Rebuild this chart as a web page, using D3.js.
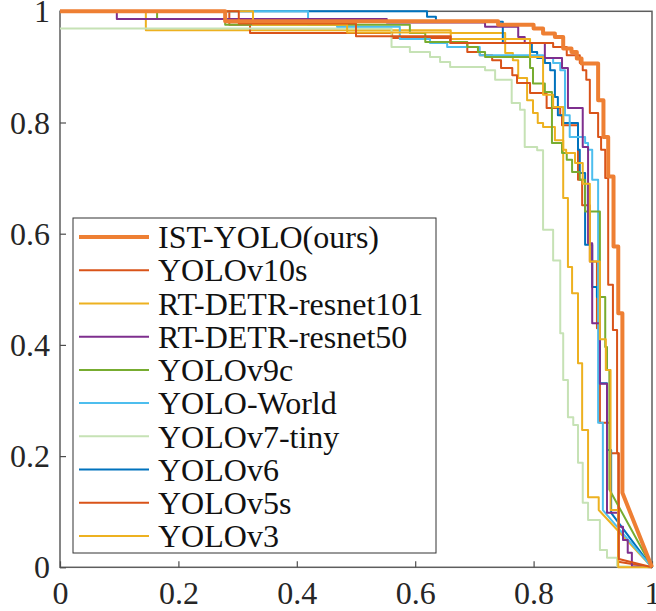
<!DOCTYPE html>
<html lang="en">
<head>
<meta charset="utf-8">
<title>PR curves</title>
<script src="https://cdn.jsdelivr.net/npm/d3@7"></script>
<style>
  body { margin: 0; background: #fff; }
  .tick text { font-family: "Liberation Serif", "Times New Roman", serif; font-size: 32px; fill: #262626; }
  .legendText { font-family: "Liberation Serif", "Times New Roman", serif; font-size: 32px; fill: #111; }
</style>
</head>
<body>
<div class="chart"></div>
<script>

// legend order, top to bottom
var names = ["IST-YOLO(ours)", "YOLOv10s", "RT-DETR-resnet101", "RT-DETR-resnet50", "YOLOv9c",
             "YOLO-World", "YOLOv7-tiny", "YOLOv6", "YOLOv5s", "YOLOv3"];

var xTicks = [0, 0.2, 0.4, 0.6, 0.8, 1];
var yTicks = [0, 0.2, 0.4, 0.6, 0.8, 1];

// recall / precision (step vertices, last one runs straight to (1,0))
var recallIST = [0, 0.279, 0.740, 0.800, 0.816, 0.836, 0.850, 0.864, 0.873, 0.881, 0.909, 0.918, 0.926, 0.935, 0.943, 0.950];
var precIST   = [1.0, 0.982, 0.976, 0.969, 0.960, 0.954, 0.933, 0.927, 0.915, 0.906, 0.840, 0.774, 0.703, 0.577, 0.457, 0.134];

var recallV10 = [0, 0.302, 0.500, 0.660, 0.833, 0.856, 0.878, 0.883, 0.889, 0.895, 0.909, 0.914, 0.921, 0.926, 0.934, 0.941, 0.944];
var precV10   = [1.0, 0.978, 0.955, 0.943, 0.936, 0.921, 0.907, 0.894, 0.877, 0.817, 0.774, 0.751, 0.700, 0.508, 0.427, 0.205, 0.015];

var recallR101 = [0, 0.326, 0.485, 0.660, 0.794, 0.816, 0.833, 0.850, 0.855, 0.870, 0.883, 0.895, 0.912, 0.922, 0.930, 0.943];
var precR101   = [1.0, 0.976, 0.962, 0.950, 0.918, 0.850, 0.828, 0.751, 0.745, 0.727, 0.690, 0.550, 0.410, 0.355, 0.103, 0.0];

var recallR50 = [0, 0.096, 0.552, 0.718, 0.774, 0.785, 0.819, 0.848, 0.858, 0.883, 0.892, 0.899, 0.912, 0.924, 0.943, 0.951, 0.959, 0.966];
var precR50   = [1.0, 0.986, 0.980, 0.972, 0.954, 0.943, 0.916, 0.898, 0.826, 0.756, 0.583, 0.439, 0.330, 0.098, 0.073, 0.049, 0.026, 0.002];

var recallV9 = [0, 0.164, 0.279, 0.591, 0.617, 0.688, 0.706, 0.718, 0.794, 0.799, 0.819, 0.831, 0.848, 0.856, 0.865, 0.878, 0.887, 0.912, 0.921, 0.924, 0.928];
var precV9   = [1.0, 0.986, 0.976, 0.961, 0.945, 0.936, 0.927, 0.918, 0.898, 0.870, 0.855, 0.763, 0.745, 0.733, 0.711, 0.697, 0.640, 0.486, 0.396, 0.355, 0.140];

var recallWorld = [0, 0.419, 0.468, 0.574, 0.625, 0.654, 0.709, 0.816, 0.833, 0.845, 0.853, 0.861, 0.887, 0.892, 0.899, 0.909, 0.917];
var precWorld   = [1.0, 0.976, 0.972, 0.950, 0.943, 0.936, 0.921, 0.916, 0.907, 0.894, 0.813, 0.774, 0.763, 0.751, 0.697, 0.260, 0.103];

var recallV7 = [0, 0.560, 0.591, 0.625, 0.642, 0.659, 0.718, 0.735, 0.763, 0.777, 0.785, 0.806, 0.816, 0.833, 0.845, 0.850, 0.858, 0.867, 0.875, 0.883, 0.892, 0.912, 0.924, 0.941];
var precV7   = [0.969, 0.936, 0.927, 0.918, 0.909, 0.900, 0.894, 0.877, 0.835, 0.823, 0.756, 0.750, 0.607, 0.552, 0.421, 0.337, 0.270, 0.256, 0.188, 0.116, 0.085, 0.031, 0.017, 0.002];

var recallV6 = [0, 0.620, 0.635, 0.748, 0.797, 0.806, 0.819, 0.828, 0.836, 0.841, 0.850, 0.875, 0.878, 0.887, 0.899, 0.907, 0.912, 0.924, 0.931];
var precV6   = [1.0, 0.990, 0.981, 0.943, 0.927, 0.916, 0.907, 0.894, 0.846, 0.813, 0.799, 0.751, 0.709, 0.580, 0.504, 0.486, 0.331, 0.211, 0.098];

var recallV5 = [0, 0.286, 0.321, 0.561, 0.659, 0.688, 0.709, 0.730, 0.745, 0.764, 0.772, 0.794, 0.822, 0.845, 0.848, 0.875, 0.882, 0.895, 0.907, 0.912, 0.929, 0.943];
var precV5   = [1.0, 0.976, 0.961, 0.952, 0.943, 0.927, 0.921, 0.912, 0.898, 0.885, 0.871, 0.853, 0.826, 0.813, 0.795, 0.697, 0.651, 0.550, 0.430, 0.260, 0.205, 0.010];

var recallV3 = [0, 0.145, 0.660, 0.752, 0.765, 0.774, 0.789, 0.799, 0.807, 0.816, 0.836, 0.850, 0.858, 0.865, 0.875, 0.882, 0.892, 0.910];
var precV3   = [1.0, 0.966, 0.961, 0.925, 0.912, 0.880, 0.840, 0.817, 0.799, 0.792, 0.768, 0.664, 0.540, 0.493, 0.367, 0.247, 0.126, 0.103];

var recalls = [recallIST, recallV10, recallR101, recallR50, recallV9, recallWorld, recallV7, recallV6, recallV5, recallV3];
var precs   = [precIST, precV10, precR101, precR50, precV9, precWorld, precV7, precV6, precV5, precV3];

var colors = ["#EE7F33", "#D95319", "#EDB120", "#7E2F8E", "#77AC30", "#4DBEEE", "#C6E2B5", "#0072BD", "#D95319", "#EDB120"];
var widths = [4, 2, 2, 2, 2, 2, 2, 2, 2, 2];

var w = 656, h = 611;
var plotL = 60, plotR = 652, plotT = 11.3, plotB = 567.3;

var svg = d3.select("div.chart").append("svg")
    .attr("width", w)
    .attr("height", h);

var xScale = d3.scaleLinear().domain([0, 1]).range([plotL, plotR]);
var yScale = d3.scaleLinear().domain([0, 1]).range([plotB, plotT]);

// step path: flat then drop, final straight segment to (1,0)
function stepPoints(r, p) {
    var pts = [];
    for (var i = 0; i < r.length; i++) {
        pts.push([r[i], p[i]]);
        if (i + 1 < r.length) pts.push([r[i + 1], p[i]]);
    }
    pts.push([1, 0]);
    return pts;
}

var line = d3.line()
    .x(function(d) { return xScale(d[0]); })
    .y(function(d) { return yScale(d[1]); });

// frame
svg.append("rect")
    .attr("x", plotL).attr("y", plotT)
    .attr("width", plotR - plotL).attr("height", plotB - plotT)
    .attr("fill", "none")
    .attr("stroke", "#5e5e5e")
    .attr("stroke-width", 1.5);

var fmt = d3.format("~g");

var xAxis = d3.axisBottom(xScale)
    .tickValues(xTicks)
    .tickFormat(fmt)
    .tickSizeInner(-6)
    .tickSizeOuter(0)
    .tickPadding(14);

var yAxis = d3.axisLeft(yScale)
    .tickValues(yTicks)
    .tickFormat(fmt)
    .tickSizeInner(-6)
    .tickSizeOuter(0)
    .tickPadding(10);

var gx = svg.append("g")
    .attr("transform", "translate(0," + plotB + ")")
    .call(xAxis);
var gy = svg.append("g")
    .attr("transform", "translate(" + plotL + ",0)")
    .call(yAxis);

[gx, gy].forEach(function(g) {
    g.select(".domain").remove();
    g.selectAll(".tick line").attr("stroke", "#4d4d4d").attr("stroke-width", 1.2);
});
gx.selectAll(".tick text").attr("dy", "0.71em");
gy.selectAll(".tick text").attr("dy", "0.33em");

// curves, drawn back to front so ours sits on top
var order = d3.range(names.length).reverse();
svg.append("g").selectAll("path")
    .data(order)
    .enter()
    .append("path")
    .attr("d", function(i) { return line(stepPoints(recalls[i], precs[i])); })
    .attr("fill", "none")
    .attr("stroke", function(i) { return colors[i]; })
    .attr("stroke-width", function(i) { return widths[i]; })
    .attr("stroke-linejoin", "round");

// legend
var legend = svg.append("g").attr("transform", "translate(73,218)");
legend.append("rect")
    .attr("width", 363).attr("height", 335)
    .attr("fill", "#fff")
    .attr("stroke", "#333")
    .attr("stroke-width", 1);

var rowY = d3.scalePoint().domain(names).range([19, 318]);

var rows = legend.selectAll("g.row")
    .data(names)
    .enter()
    .append("g")
    .attr("class", "row")
    .attr("transform", function(d) { return "translate(0," + rowY(d) + ")"; });

rows.append("line")
    .attr("x1", 6).attr("x2", 76)
    .attr("stroke", function(d, i) { return colors[i]; })
    .attr("stroke-width", function(d, i) { return widths[i]; });

rows.append("text")
    .attr("class", "legendText")
    .attr("x", 85)
    .attr("dy", "0.35em")
    .text(function(d) { return d; });

</script>
</body>
</html>
